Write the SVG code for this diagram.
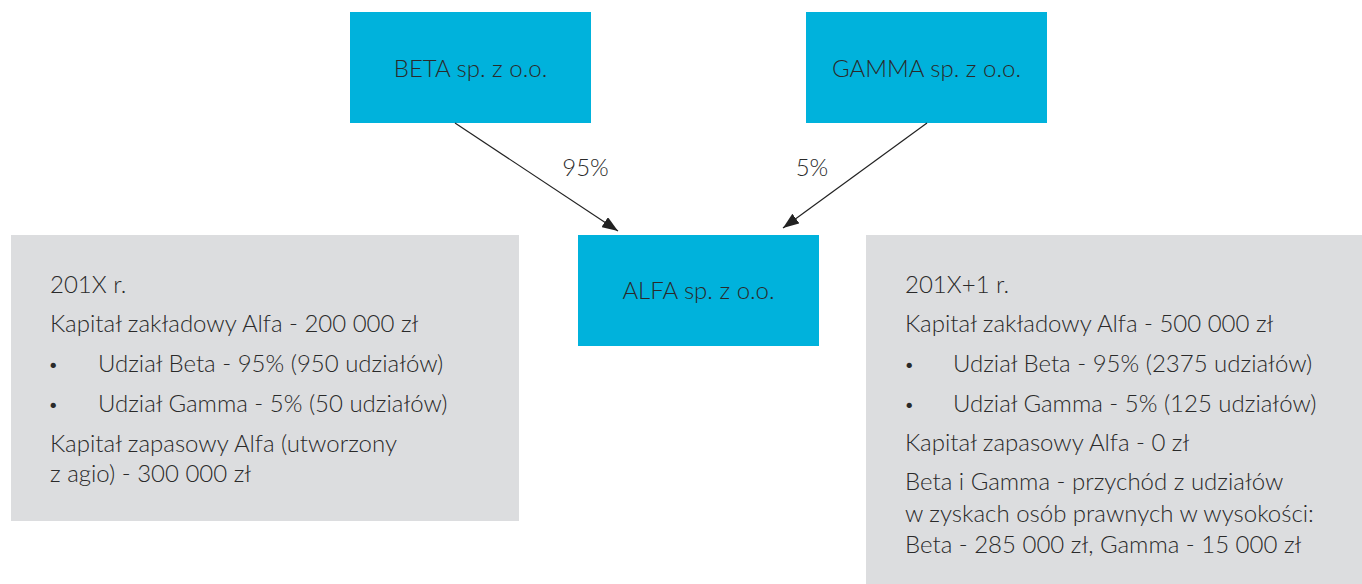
<svg xmlns="http://www.w3.org/2000/svg" width="1362" height="584" viewBox="0 0 1362 584">
<style>
.node{fill:#00B2DC}
.panel{fill:#DCDDDF}
text{font-family:Lato,"Liberation Sans",sans-serif;font-weight:300;font-size:24px;fill:#2a2a2a}
.c{text-anchor:middle}
.b{font-size:18px}
.conn{stroke:#222;stroke-width:1.2;fill:none}
</style>
<defs>
<marker id="ah" viewBox="0 0 16 12" refX="16" refY="6" markerWidth="16" markerHeight="12" markerUnits="userSpaceOnUse" orient="auto">
<path d="M0,0 L16,6 L0,12 Z" fill="#222"/>
</marker>
</defs>
<g id="beta"><rect class="node" x="350" y="12" width="241" height="111"/><text class="c" x="470.5" y="77">BETA sp. z o.o.</text></g>
<g id="gamma"><rect class="node" x="806" y="12" width="241" height="111"/><text class="c" x="926.5" y="77">GAMMA sp. z o.o.</text></g>
<g id="alfa"><rect class="node" x="578" y="235" width="241" height="111"/><text class="c" x="698.5" y="299">ALFA sp. z o.o.</text></g>
<g id="connectors">
<line class="conn" x1="455" y1="123" x2="618" y2="231" marker-end="url(#ah)"/>
<line class="conn" x1="927" y1="123" x2="783" y2="228" marker-end="url(#ah)"/>
<text class="c" x="585.5" y="176">95%</text>
<text class="c" x="812" y="176">5%</text>
</g>
<g id="panel-left">
<rect class="panel" x="11" y="235" width="508" height="286"/>
<text x="50" y="293">201X r.</text>
<text x="50" y="332">Kapitał zakładowy Alfa - 200 000 zł</text>
<text class="b" x="48" y="371">•</text><text x="98" y="372">Udział Beta - 95% (950 udziałów)</text>
<text class="b" x="48" y="411">•</text><text x="98" y="412">Udział Gamma - 5% (50 udziałów)</text>
<text x="50" y="452">Kapitał zapasowy Alfa (utworzony</text>
<text x="50" y="482">z agio) - 300 000 zł</text>
</g>
<g id="panel-right">
<rect class="panel" x="866" y="235" width="508" height="349"/>
<text x="905" y="293">201X+1 r.</text>
<text x="905" y="332">Kapitał zakładowy Alfa - 500 000 zł</text>
<text class="b" x="904" y="371">•</text><text x="953" y="372">Udział Beta - 95% (2375 udziałów)</text>
<text class="b" x="904" y="411">•</text><text x="953" y="412">Udział Gamma - 5% (125 udziałów)</text>
<text x="905" y="451">Kapitał zapasowy Alfa - 0 zł</text>
<text x="905" y="490">Beta i Gamma - przychód z udziałów</text>
<text x="905" y="522">w zyskach osób prawnych w wysokości:</text>
<text x="905" y="553">Beta - 285 000 zł, Gamma - 15 000 zł</text>
</g>
</svg>
